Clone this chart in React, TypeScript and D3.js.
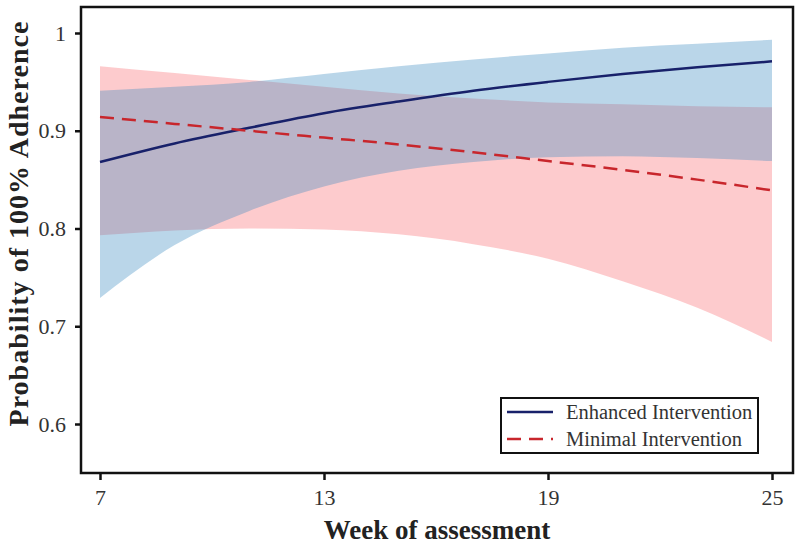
import { useRef, useEffect } from 'react';
import * as d3 from 'd3';

// week of assessment
const weeks = [7, 9, 11, 13, 15, 17, 19, 21, 23, 25];

// enhanced intervention: fit + 95% band
const enhFit   = [0.868, 0.887, 0.903, 0.918, 0.930, 0.941, 0.950, 0.958, 0.965, 0.971];
const enhUpper = [0.941, 0.945, 0.950, 0.958, 0.966, 0.973, 0.979, 0.985, 0.989, 0.993];
const enhLower = [0.729, 0.783, 0.818, 0.843, 0.859, 0.868, 0.873, 0.874, 0.872, 0.869];

// minimal intervention: fit + 95% band
const minFit   = [0.914, 0.907, 0.900, 0.893, 0.886, 0.878, 0.869, 0.860, 0.850, 0.839];
const minUpper = [0.966, 0.959, 0.952, 0.945, 0.938, 0.933, 0.929, 0.927, 0.925, 0.924];
const minLower = [0.793, 0.798, 0.800, 0.799, 0.794, 0.784, 0.769, 0.746, 0.719, 0.684];

const xTicks = [7, 13, 19, 25];
const yTicks = [0.6, 0.7, 0.8, 0.9, 1];

const legendLabels = ['Enhanced Intervention', 'Minimal Intervention'];

export default function App() {
  const svgRef = useRef<SVGSVGElement>(null);

  useEffect(() => {
    const w = 800, h = 549;
    const box = { l: 81, r: 793, t: 7, b: 473 };
    const font = '"Liberation Serif", "Times New Roman", serif';

    const x = d3.scaleLinear().domain([7, 25]).range([100, 772]);
    const y = d3.scaleLinear().domain([0.6, 1]).range([424, 33]);

    const svg = d3.select(svgRef.current)
      .attr('width', w)
      .attr('height', h)
      .attr('font-family', font);
    svg.selectAll('*').remove();

    const band = (lo: number[], hi: number[]) => d3.area<number>()
      .x(d => x(d))
      .y0((_, i) => y(lo[i]))
      .y1((_, i) => y(hi[i]))
      .curve(d3.curveMonotoneX)(weeks);

    const line = (v: number[]) => d3.line<number>()
      .x(d => x(d))
      .y((_, i) => y(v[i]))
      .curve(d3.curveMonotoneX)(weeks);

    // bands
    svg.append('path')
      .attr('d', band(minLower, minUpper))
      .attr('fill', 'rgb(249,106,112)')
      .attr('fill-opacity', 0.35);
    svg.append('path')
      .attr('d', band(enhLower, enhUpper))
      .attr('fill', 'rgb(58,138,192)')
      .attr('fill-opacity', 0.35);

    // fitted lines
    svg.append('path')
      .attr('d', line(enhFit))
      .attr('fill', 'none')
      .attr('stroke', '#18216a')
      .attr('stroke-width', 2.5);
    svg.append('path')
      .attr('d', line(minFit))
      .attr('fill', 'none')
      .attr('stroke', '#c8262c')
      .attr('stroke-width', 2.5)
      .attr('stroke-dasharray', '14,8');

    // frame
    svg.append('rect')
      .attr('x', box.l).attr('y', box.t)
      .attr('width', box.r - box.l).attr('height', box.b - box.t)
      .attr('fill', 'none')
      .attr('stroke', '#111')
      .attr('stroke-width', 2.5);

    // axes
    svg.append('g')
      .attr('transform', `translate(0,${box.b})`)
      .call(d3.axisBottom(x).tickValues(xTicks).tickSize(7).tickPadding(9).tickFormat(d3.format('d')))
      .call(g => g.select('.domain').remove())
      .call(g => g.selectAll('line').attr('stroke', '#111').attr('stroke-width', 2.5))
      .call(g => g.selectAll('text').attr('fill', '#333').attr('font-family', font).attr('font-size', 22));

    svg.append('g')
      .attr('transform', `translate(${box.l},0)`)
      .call(d3.axisLeft(y).tickValues(yTicks).tickSize(6).tickPadding(9).tickFormat(d => d === 1 ? '1' : d3.format('.1f')(d as number)))
      .call(g => g.select('.domain').remove())
      .call(g => g.selectAll('line').attr('stroke', '#111').attr('stroke-width', 2.5))
      .call(g => g.selectAll('text').attr('fill', '#333').attr('font-family', font).attr('font-size', 22));

    // axis titles
    svg.append('text')
      .attr('x', 437).attr('y', 539)
      .attr('text-anchor', 'middle')
      .attr('font-weight', 700)
      .attr('font-size', 27)
      .attr('fill', '#222')
      .text('Week of assessment');

    svg.append('text')
      .attr('transform', 'translate(28,224) rotate(-90)')
      .attr('text-anchor', 'middle')
      .attr('font-weight', 700)
      .attr('font-size', 28)
      .attr('textLength', 405)
      .attr('fill', '#222')
      .text('Probability of 100% Adherence');

    // legend
    const lg = svg.append('g');
    lg.append('rect')
      .attr('x', 501).attr('y', 398)
      .attr('width', 257).attr('height', 55)
      .attr('fill', '#fff')
      .attr('stroke', '#111')
      .attr('stroke-width', 2);
    const styles = [
      { stroke: '#18216a', dash: null },
      { stroke: '#c8262c', dash: '14,8' }
    ];
    legendLabels.forEach((lab, i) => {
      const yy = 412 + i * 27;
      lg.append('line')
        .attr('x1', 507).attr('x2', 553)
        .attr('y1', yy).attr('y2', yy)
        .attr('stroke', styles[i].stroke)
        .attr('stroke-width', 2.5)
        .attr('stroke-dasharray', styles[i].dash);
      lg.append('text')
        .attr('x', 566).attr('y', yy + 7)
        .attr('fill', '#333')
        .attr('font-size', 20.5)
        .text(lab);
    });
  }, []);

  return (
    <div style={{ position: 'absolute', left: 0, top: 0 }}>
      <svg ref={svgRef} style={{ display: 'block' }}></svg>
    </div>
  );
}
